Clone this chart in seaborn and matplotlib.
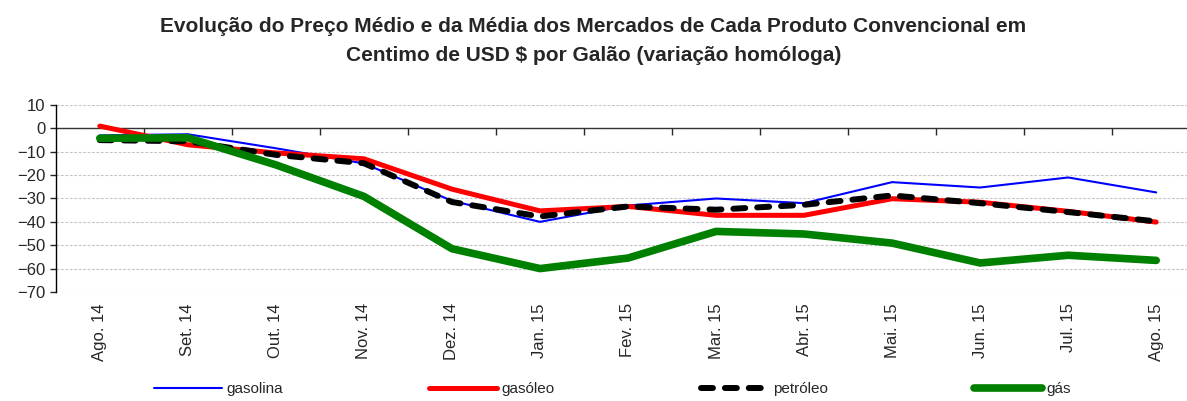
import numpy as np
import pandas as pd
import matplotlib
matplotlib.use('Agg')
import matplotlib.pyplot as plt
import seaborn as sns

# months shown on the x axis
months = ['Ago. 14', 'Set. 14', 'Out. 14', 'Nov. 14', 'Dez. 14', 'Jan. 15', 'Fev. 15',
          'Mar. 15', 'Abr. 15', 'Mai. 15', 'Jun. 15', 'Jul. 15', 'Ago. 15']

# year-on-year change, US cents per gallon
gasolina = [-3, -2.5, -8.5, -15, -31, -40, -33, -30, -32, -23, -25.3, -21, -27.4]
gasoleo = [1, -7, -10.5, -13, -26, -35.3, -33.4, -37.2, -37.2, -30.1, -31.6, -35.5, -40.1]
petroleo = [-5, -5.5, -11.3, -14.9, -31.5, -37.7, -33.4, -34.8, -32.7, -28.7, -32, -35.8, -39.8]
gas = [-4.2, -4, -15.6, -29.1, -51.5, -60, -55.5, -44.1, -45.2, -49.1, -57.6, -54.3, -56.5]

sns.set_style('white')
plt.rcParams['font.family'] = ['Liberation Sans', 'DejaVu Sans']

fig = plt.figure(figsize=(11.87, 4.01), dpi=100)
ax = fig.add_axes([0.047, 0.272, 0.953, 0.466])

x = np.arange(len(months))
series = [
    ('gasolina', gasolina, '#0000ff', 1.5, None),
    ('gasóleo', gasoleo, '#ff0000', 3.6, None),
    ('petróleo', petroleo, '#000000', 4.3, (2.0, 2.0)),
    ('gás', gas, '#008000', 5.5, None),
]
for name, vals, col, lw, dash in series:
    df = pd.DataFrame({'x': x, 'y': vals})
    sns.lineplot(data=df, x='x', y='y', ax=ax, color=col, linewidth=lw, label=name,
                 sort=False)
    line = ax.lines[-1]
    line.set_solid_capstyle('round')
    if dash is not None:
        line.set_dashes(dash)
        line.set_dash_capstyle('round')

ax.set_ylim(-70, 10)
ax.set_xlim(-0.5, 12.35)
ax.set_yticks(range(-70, 11, 10))
ax.yaxis.grid(True, color='#c4c4c4', linestyle=(0, (2.5, 1.5)), linewidth=0.8)
ax.set_axisbelow(True)
ax.axhline(0, color='#333333', linewidth=1.0, zorder=1.5)

for s in ['top', 'right', 'bottom']:
    ax.spines[s].set_visible(False)
ax.spines['left'].set_color('black')
ax.spines['left'].set_linewidth(1.0)

ax.set_xticks(x)
ax.set_xticklabels(months, rotation=90, fontsize=12)
ax.tick_params(axis='x', length=0, pad=8)
ax.tick_params(axis='y', labelsize=12, length=4, direction='out', left=True, width=1)
ax.set_xlabel('')
ax.set_ylabel('')

# category separators on the zero line
sec = ax.secondary_xaxis(70 / 80)
sec.set_xticks(np.arange(len(months) - 1) + 0.5)
sec.tick_params(axis='x', direction='out', length=5, width=1, labelbottom=False,
                labeltop=False, top=False, bottom=True)
sec.xaxis.set_ticks_position('bottom')
sec.set_xticklabels([])
sec.spines['bottom'].set_visible(False)
sec.spines['top'].set_visible(False)

ax.get_legend().remove()
handles, labels = ax.get_legend_handles_labels()
leg = fig.legend(handles, labels, loc='center', bbox_to_anchor=(0.516, 0.03), ncol=4,
                 frameon=False, handlelength=4.4, columnspacing=9.6, handletextpad=0.3,
                 prop={'size': 11})

fig.text(0.5, 0.935, 'Evolução do Preço Médio e da Média dos Mercados de Cada Produto Convencional em',
         ha='center', va='center', fontsize=15, fontweight='bold')
fig.text(0.5, 0.862, 'Centimo de USD $ por Galão (variação homóloga)',
         ha='center', va='center', fontsize=15, fontweight='bold')

fig.savefig('out.png', dpi=100)
